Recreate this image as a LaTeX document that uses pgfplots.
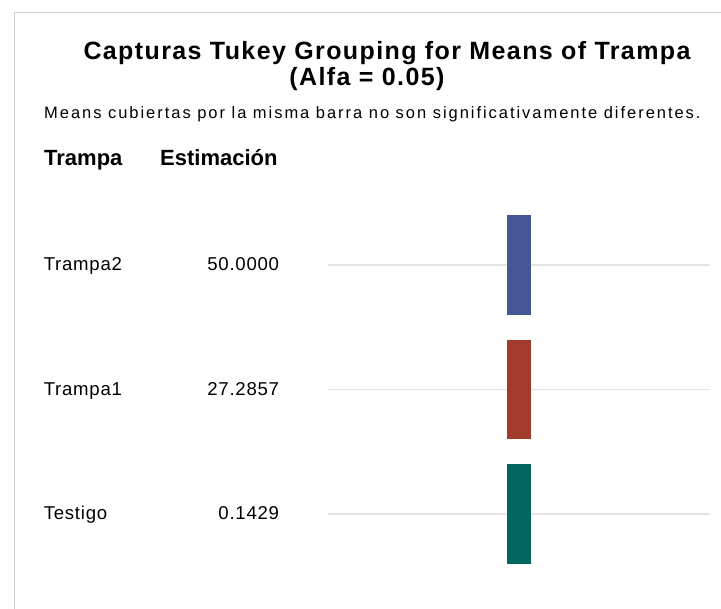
\documentclass[border=0pt]{standalone}
\usepackage{fontspec}
\setmainfont{Liberation Sans}
\newfontfamily\titf{Liberation Sans Bold}[LetterSpace=5.6]
\newfontfamily\subf{Liberation Sans}[LetterSpace=11.9]
\newfontfamily\rowf{Liberation Sans}[LetterSpace=4]
\newfontfamily\hdrf{Liberation Sans Bold}
\usepackage{pgfplots}
\pgfplotsset{compat=1.18}

\definecolor{gd1}{HTML}{445694}
\definecolor{gd2}{HTML}{A23A2E}
\definecolor{gd3}{HTML}{01665E}
\definecolor{gridc}{HTML}{E4E4E4}
\definecolor{framec}{HTML}{D0D0D0}

\newcommand{\rowlab}[2]{\makebox[235.3bp]{\rowf\fontsize{18.6bp}{22bp}\selectfont #1\hfill #2}}

\begin{document}
\begin{tikzpicture}[x=1bp,y=1bp]
\useasboundingbox (0,0) rectangle (721,609);
\draw[framec, line width=1.3bp] (14.3,0) -- (14.3,596.3) -- (721,596.3);

\node[anchor=base, inner sep=0] at (387,549.7)
  {\titf\fontsize{25bp}{28bp}\selectfont Capturas Tukey Grouping for Means of Trampa};
\node[anchor=base, inner sep=0] at (367,523)
  {\titf\fontsize{25bp}{28bp}\selectfont (Alfa = 0.05)};
\node[anchor=base west, inner sep=0] at (44,490.7)
  {\subf\fontsize{16.5bp}{19bp}\selectfont Means cubiertas por la misma barra no son significativamente diferentes.};
\node[anchor=base west, inner sep=0] at (44,443)
  {\hdrf\fontsize{22bp}{26bp}\selectfont Trampa};
\node[anchor=base west, inner sep=0] at (160,443)
  {\hdrf\fontsize{22bp}{26bp}\selectfont Estimación};

\begin{axis}[
  at={(328bp,32.75bp)}, anchor=south west,
  scale only axis, width=382bp, height=373.5bp,
  xmin=0, xmax=1, ymin=-0.5, ymax=2.5,
  axis line style={draw=none},
  xtick=\empty,
  ytick={0,1,2},
  yticklabels={\rowlab{Testigo}{0.1429},\rowlab{Trampa1}{27.2857},\rowlab{Trampa2}{50.0000}},
  yticklabel style={anchor=base east, inner sep=0pt, xshift=-48.7bp, yshift=-5.7bp},
  major tick length=0pt,
  ymajorgrids,
  grid style={gridc, line width=1.5bp},
  clip=false,
]
\addplot[fill=gd1, draw=none] coordinates {(0.4686,1.6) (0.5314,1.6) (0.5314,2.4) (0.4686,2.4)} -- cycle;
\addplot[fill=gd2, draw=none] coordinates {(0.4686,0.6) (0.5314,0.6) (0.5314,1.4) (0.4686,1.4)} -- cycle;
\addplot[fill=gd3, draw=none] coordinates {(0.4686,-0.4) (0.5314,-0.4) (0.5314,0.4) (0.4686,0.4)} -- cycle;
\end{axis}
\end{tikzpicture}
\end{document}
